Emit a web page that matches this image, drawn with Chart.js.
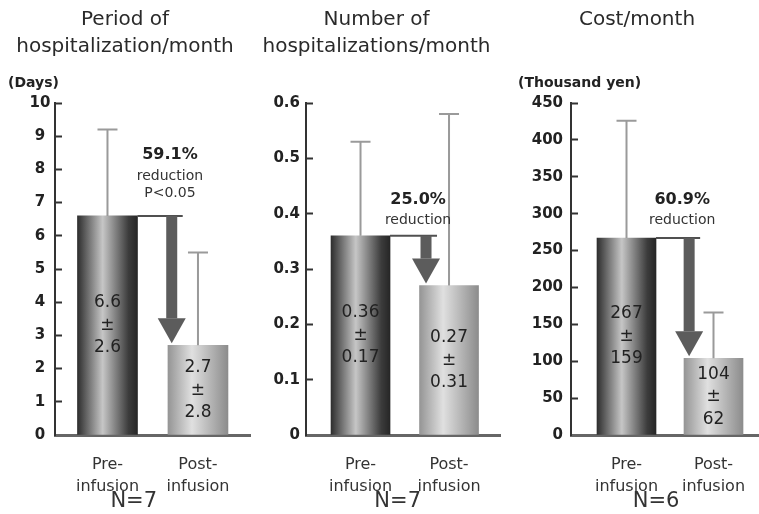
<!DOCTYPE html>
<html>
<head>
<meta charset="utf-8">
<script src="https://cdn.jsdelivr.net/npm/chart.js@4.4.1/dist/chart.umd.min.js"></script>
<style>
body { margin: 0; background: #fff; }
#wrap { position: relative; width: 759px; height: 514px; overflow: hidden; }
canvas { position: absolute; top: 0; }
</style>
</head>
<body>
<div id="wrap">
<canvas id="c1" width="265" height="514" style="left:0px"></canvas>
<canvas id="c2" width="278" height="514" style="left:253px"></canvas>
<canvas id="c3" width="244" height="514" style="left:515px"></canvas>
</div>
<script>
"use strict";
// data
var categories = [["Pre-", "infusion"], ["Post-", "infusion"]];
var daysMean = [6.6, 2.7];
var daysSD = [2.6, 2.8];
var countMean = [0.36, 0.27];
var countSD = [0.17, 0.31];
var costMean = [267, 104];
var costSD = [159, 62];
var daysNote = ["59.1%", "reduction", "P<0.05"];
var countNote = ["25.0%", "reduction"];
var costNote = ["60.9%", "reduction"];

var FONT = '"DejaVu Sans", sans-serif';
var preStops = [[0, "#2e2e2e"], [0.42, "#c6c6c6"], [0.85, "#3c3c3c"], [1, "#262626"]];
var postStops = [[0, "#959595"], [0.4, "#e0e0e0"], [1, "#8c8c8c"]];

function barFill(width) {
  return function(ctx) {
    var chart = ctx.chart;
    if (!chart.chartArea || !chart.scales.x) return "#888";
    var cx = chart.scales.x.getPixelForValue(ctx.dataIndex);
    var g = chart.ctx.createLinearGradient(cx - width / 2, 0, cx + width / 2, 0);
    (ctx.dataIndex === 0 ? preStops : postStops).forEach(function(s) { g.addColorStop(s[0], s[1]); });
    return g;
  };
}

// error bars, in-bar values, reduction arrow and notes
var panelPlugin = {
  id: "panel",
  afterDatasetsDraw: function(chart, args, o) {
    var c = chart.ctx, xs = chart.scales.x, ys = chart.scales.y;
    var mean = chart.data.datasets[0].data.map(function(p) { return p.y; });
    var half = o.barWidth / 2;
    c.save();

    c.strokeStyle = "#9a9a9a";
    c.lineWidth = 2;
    mean.forEach(function(m, i) {
      var x = xs.getPixelForValue(i);
      var y0 = ys.getPixelForValue(m), y1 = ys.getPixelForValue(m + o.sd[i]);
      c.beginPath();
      c.moveTo(x, y0); c.lineTo(x, y1);
      c.moveTo(x - 10, y1); c.lineTo(x + 10, y1);
      c.stroke();
    });

    c.fillStyle = "#222";
    c.font = "17px " + FONT;
    c.textAlign = "center";
    c.textBaseline = "middle";
    mean.forEach(function(m, i) {
      var x = xs.getPixelForValue(i);
      var yc = (ys.getPixelForValue(m) + ys.getPixelForValue(0)) / 2;
      c.fillText(String(m), x, yc - 22.5);
      c.fillText("\u00b1", x, yc);
      c.fillText(String(o.sd[i]), x, yc + 22.5);
    });

    // arrow from pre bar down to post bar
    var ax = xs.getPixelForValue(o.arrowX);
    var yA = ys.getPixelForValue(mean[0]);
    var yB = ys.getPixelForValue(mean[1]) - 2;
    c.strokeStyle = "#505050";
    c.lineWidth = 2;
    c.beginPath();
    c.moveTo(xs.getPixelForValue(0) + half, yA);
    c.lineTo(ax + 11, yA);
    c.stroke();
    c.fillStyle = "#5c5c5c";
    c.fillRect(ax - 5.5, yA, 11, yB - 25 - yA);
    c.beginPath();
    c.moveTo(ax - 14, yB - 25); c.lineTo(ax + 14, yB - 25); c.lineTo(ax, yB);
    c.closePath();
    c.fill();

    // reduction note
    var nx = xs.getPixelForValue(o.noteX);
    var ny = ys.getPixelForValue(o.noteY);
    o.note.forEach(function(t, i) {
      if (i === 0) { c.font = "bold 16px " + FONT; c.fillStyle = "#222"; }
      else { c.font = "14px " + FONT; c.fillStyle = "#333"; ny += (i === 1 ? 21 : 17); }
      c.fillText(t, nx, ny);
    });

    // unit and N
    if (o.unit) {
      c.font = "bold 14px " + FONT;
      c.fillStyle = "#222";
      c.textAlign = "left";
      c.fillText(o.unit, o.unitX, 83);
    }
    c.font = "21px " + FONT;
    c.fillStyle = "#333";
    c.textAlign = "center";
    c.fillText(o.n, xs.getPixelForValue(o.nX), 502);
    c.restore();
  }
};

function makePanel(id, title, mean, sd, cfg) {
  return new Chart(document.getElementById(id), {
    type: "bar",
    data: {
      datasets: [{
        data: mean.map(function(v, i) { return { x: i, y: v }; }),
        backgroundColor: barFill(cfg.barWidth),
        borderWidth: 0,
        barThickness: cfg.barWidth
      }]
    },
    options: {
      responsive: false,
      animation: false,
      events: [],
      layout: { padding: { right: cfg.padRight } },
      plugins: {
        legend: { display: false },
        tooltip: { enabled: false },
        title: {
          display: true,
          text: title,
          color: "#2a2a2a",
          font: { family: FONT, size: 20, weight: "normal", lineHeight: 1.35 },
          padding: { top: 6, bottom: cfg.titleGap }
        },
        panel: {
          sd: sd, barWidth: cfg.barWidth, arrowX: cfg.arrowX,
          note: cfg.note, noteX: cfg.noteX, noteY: cfg.noteY,
          unit: cfg.unit, unitX: cfg.unitX, n: cfg.n, nX: cfg.nX
        }
      },
      scales: {
        x: {
          type: "linear",
          min: cfg.xMin,
          max: cfg.xMax,
          offset: false,
          afterBuildTicks: function(s) { s.ticks = categories.map(function(_, i) { return { value: i }; }); },
          afterFit: function(s) { s.height = 79; },
          grid: { display: false },
          border: { display: true, color: "#666", width: 3 },
          ticks: {
            autoSkip: false,
            maxRotation: 0,
            padding: 11,
            color: "#333",
            font: { family: FONT, size: 16, lineHeight: 1.375 },
            callback: function(v) { return categories[v]; }
          }
        },
        y: {
          min: 0,
          max: cfg.yMax,
          afterFit: function(s) { s.width = cfg.axisW; },
          grid: { drawOnChartArea: false, drawTicks: true, tickLength: -7, tickWidth: 2, tickColor: "#333" },
          border: { color: "#333", width: 2 },
          ticks: {
            stepSize: cfg.step,
            padding: cfg.tickPad,
            crossAlign: cfg.crossAlign,
            color: "#222",
            font: { family: FONT, size: 15, weight: "bold" }
          }
        }
      }
    },
    plugins: [panelPlugin]
  });
}

makePanel("c1", ["Period of", "hospitalization/month"], daysMean, daysSD, {
  barWidth: 60, padRight: 15, titleGap: 43, axisW: 55, tickPad: 11.6, crossAlign: "center",
  xMin: -0.58, xMax: 1.575, yMax: 10, step: 1,
  arrowX: 0.71, note: daysNote, noteX: 0.69, noteY: 8.43,
  unit: "(Days)", unitX: 8, n: "N=7", nX: 0.29
});
makePanel("c2", ["Number of", "hospitalizations/month"], countMean, countSD, {
  barWidth: 59, padRight: 31, titleGap: 43, axisW: 53, tickPad: 13, crossAlign: "near",
  xMin: -0.616, xMax: 1.576, yMax: 0.6, step: 0.1,
  arrowX: 0.74, note: countNote, noteX: 0.65, noteY: 0.425,
  unit: null, unitX: 0, n: "N=7", nX: 0.42
});
makePanel("c3", "Cost/month", costMean, costSD, {
  barWidth: 59, padRight: 0, titleGap: 70, axisW: 56, tickPad: 15, crossAlign: "near",
  xMin: -0.638, xMax: 1.523, yMax: 450, step: 50,
  arrowX: 0.72, note: costNote, noteX: 0.64, noteY: 319,
  unit: "(Thousand yen)", unitX: 3, n: "N=6", nX: 0.34
});
</script>
</body>
</html>
